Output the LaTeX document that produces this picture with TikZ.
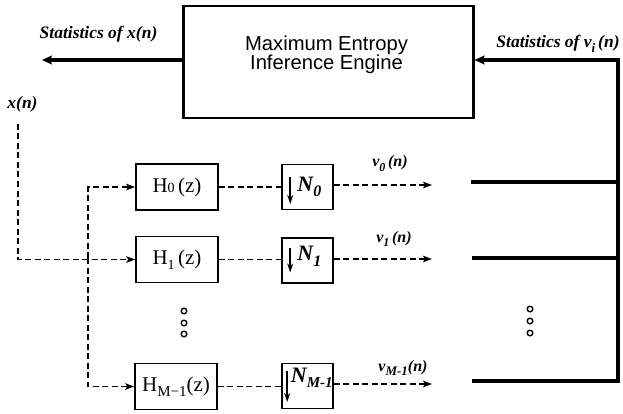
\documentclass[tikz,border=0pt]{standalone}
\usepackage{fontspec}
\setmainfont{Liberation Serif}
\newfontfamily\helv{Liberation Sans}
\usetikzlibrary{arrows.meta,calc}
\newcommand\sbs[3][13]{\raisebox{#2}{\fontsize{#1}{#1}\selectfont #3}}
\begin{document}
\begin{tikzpicture}[x=1pt,y=-1pt,
  hbox/.style={draw,line width=1.6pt,minimum width=82pt,minimum height=46pt,inner sep=0pt,
    font=\fontsize{21}{22}\selectfont},
  nbox/.style={draw,line width=1.6pt,minimum width=51pt,minimum height=45pt,inner sep=0pt},
  dsh/.style={line width=1.5pt,dash pattern=on 6pt off 3.5pt},
  darr/.style={dsh,-{Stealth[length=9pt,width=6.5pt,inset=2pt]}},
  thk/.style={line width=3.2pt},
  tharr/.style={thk,-{Stealth[length=10pt,width=9pt,inset=2pt]}},
  lbl/.style={font=\fontsize{17.5}{19}\selectfont\bfseries\itshape,inner sep=0pt},
  nlbl/.style={font=\fontsize{22}{22}\selectfont\bfseries\itshape,inner sep=0pt,anchor=base west},
  vlbl/.style={font=\fontsize{16}{17}\selectfont\bfseries\itshape,inner sep=0pt,anchor=base},
  downarr/.style={line width=1.8pt,-{Stealth[length=9pt,width=6pt]}},
  dot/.style={line width=1.4pt}
]
\useasboundingbox (0,0) rectangle (623,414);

% engine
\node[draw,line width=2.2pt,minimum width=290pt,minimum height=112pt,inner sep=0pt] (engine) at (328.5,62) {};
\node[font=\helv\fontsize{20.2}{19.5}\selectfont,align=center,inner sep=0pt] (enginetext) at (326.5,55)
  {Maximum Entropy\\Inference Engine};

% statistics out
\coordinate (statxend) at (42,60);
\draw[tharr] (engine.west |- statxend) -- (statxend);
\node[lbl,anchor=base] (statx) at (98.5,39) {Statistics of x(n)};

% input
\node[lbl,anchor=base] (xn) at (22.5,109) {x(n)};
\coordinate (xin) at (18,124);
\coordinate (br) at (88,258);

% filters
\node[hbox] (h0) at (177,187) {H\sbs[14]{0pt}{0}\,(z)};
\node[hbox] (h1) at (177,259.5) {H\sbs[14]{-0.22em}{1}\,(z)};
\node[hbox] (hm) at (176,386.5) {H\sbs[15]{-0.22em}{M−1}(z)};

\draw[darr] (xin) |- (h1.west);
\draw[darr] (br) |- (h0.west);
\draw[darr] (br) |- (hm.west);

% downsamplers
\node[nbox] (n0) at (307.5,187) {};
\node[nbox] (n1) at (307.5,260.5) {};
\node[nbox] (nm) at (307.5,386) {};

\draw[dsh] (h0.east) -- (h0.east -| n0.west);
\draw[dsh] (h1.east) -- (h1.east -| n1.west);
\draw[dsh] (hm.east) -- (hm.east -| nm.west);

\draw[downarr] ($(n0.west)+(9,-10)$) -- ($(n0.west)+(9,17)$);
\draw[downarr] ($(n1.west)+(9,-13)$) -- ($(n1.west)+(9,12)$);
\draw[downarr] ($(nm.west)+(6,-15)$) -- ($(nm.west)+(6,16)$);

\node[nlbl] (n0l) at ($(n0.west)+(16,4)$) {N\sbs[16]{-0.25em}{0}};
\node[nlbl] (n1l) at ($(n1.west)+(16,0)$) {N\sbs[16]{-0.25em}{1}};
\node[nlbl] (nml) at ($(nm.west)+(9.5,-4)$) {N\sbs[15]{-0.25em}{M-1}};

% outputs
\coordinate (v0e) at (432,185);
\coordinate (v1e) at (432,259);
\coordinate (vme) at (432,384);
\draw[darr] (n0.east |- v0e) -- (v0e);
\draw[darr] (n1.east |- v1e) -- (v1e);
\draw[darr] (nm.east |- vme) -- (vme);

\node[vlbl] (v0) at (390,167) {v\sbs[12]{-0.28em}{0}\,(n)};
\node[vlbl] (v1) at (394,242) {v\sbs[12]{-0.28em}{1}\,(n)};
\node[vlbl] (vm) at (403,371) {v\sbs[13]{-0.28em}{M-1}(n)};

% feedback
\coordinate (t0) at (471,182);
\coordinate (t1) at (472,258);
\coordinate (tm) at (472,381);
\coordinate (fbtop) at (618,60);
\draw[thk] (t0) -- (t0 -| fbtop);
\draw[thk] (t1) -- (t1 -| fbtop);
\draw[tharr] (tm) -| (fbtop) -- (engine.east |- fbtop);
\node[lbl,anchor=base] (statv) at (558,48) {Statistics of v\sbs[13]{-0.28em}{i}\,(n)};

% dots
\foreach \yy in {311,323,334} \draw[dot] (184,\yy) circle (2.8pt);
\foreach \yy in {309,321,333} \draw[dot] (530,\yy) circle (2.8pt);
\end{tikzpicture}
\end{document}
